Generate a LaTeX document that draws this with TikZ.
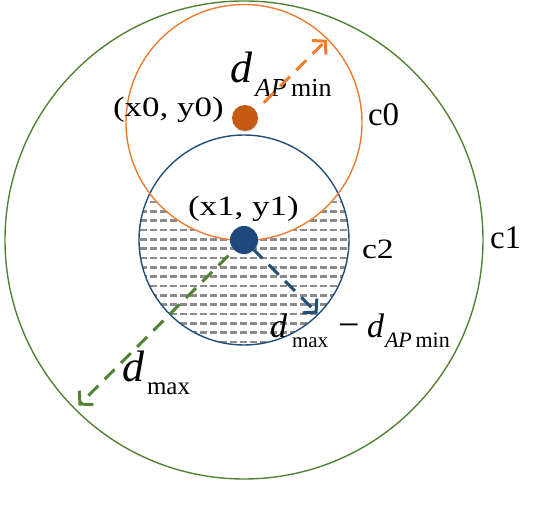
\documentclass[tikz,border=0pt]{standalone}
\usepackage{fontspec}
\setmainfont{Liberation Serif}
\usetikzlibrary{arrows.meta,shadows}
\definecolor{cgreen}{RGB}{84,130,53}
\definecolor{corange}{RGB}{237,125,49}
\definecolor{cblue}{RGB}{31,78,121}
\definecolor{cdotorange}{RGB}{197,90,17}
\definecolor{cdotblue}{RGB}{31,73,125}
\definecolor{chatch}{RGB}{140,140,140}
\newcommand\fs[1]{\fontsize{#1}{#1}\selectfont}
\begin{document}
\begin{tikzpicture}[x=1pt,y=1pt,
  lbl/.style={inner sep=0pt, outer sep=0pt, anchor=base west, text=black},
  ring/.style={line width=1.4pt},
  darrow/.style={line width=3pt, dash pattern=on 14pt off 9pt, -{Straight Barb[length=9pt,width=20pt]}},
  hatchline/.style={chatch, line width=2.8pt, dash pattern=on 7pt off 3pt},
  dotnode/.style={circle, inner sep=0pt, outer sep=0pt, drop shadow={opacity=0.18, shadow xshift=1pt, shadow yshift=-1.5pt}}]
\useasboundingbox (0,0) rectangle (550,506);
\coordinate (O0) at (244,383.5);
\coordinate (O1) at (244,266);
% hatching: inside c2, outside c0
\begin{scope}
 \clip (O1) circle (105pt);
 \begin{scope}[even odd rule]
 \clip (0,0) rectangle (550,506) (O0) circle (118pt);
 \foreach \k in {0,...,15} \draw[hatchline] (130,{304-\k*9.33}) -- (360,{304-\k*9.33});
 \end{scope}
\end{scope}
% circles
\draw[ring, cgreen] (O1) circle (239pt);
\draw[ring, cblue] (O1) circle (105pt);
\draw[ring, corange] (O0) circle (118pt);
% labels
\node[lbl] (p0) at (113,389) {\fs{28}\scalebox{1.25}[1]{(x0, y0)}};
\node[lbl] (p1) at (188,290.5) {\fs{28}\scalebox{1.25}[1]{(x1, y1)}};
\node[lbl] (lc0) at (368,380) {\fs{33}c0};
\node[lbl] (lc2) at (362,247) {\fs{28}\scalebox{1.2}[1]{c2}};
\node[lbl] (lc1) at (490,257) {\fs{33}c1};
\node[lbl] (dA) at (230,423) {\fs{44}\itshape d};
\node[lbl] (dAs) at (255,409) {\fs{26}\itshape AP\,\upshape min};
\node[lbl] (dM) at (122,124) {\fs{44}\itshape d};
\node[lbl] (dMs) at (147,111) {\fs{25}max};
\node[lbl] (dD1) at (270,168) {\fs{34}\itshape d};
\node[lbl] (dD1s) at (292,158) {\fs{21}max};
\node[lbl, anchor=base] (minus) at (349,168) {\fs{38}−};
\node[lbl] (dD2) at (367,168) {\fs{34}\itshape d};
\node[lbl] (dD2s) at (385,158) {\fs{22}\itshape AP\,\upshape min};
% arrows
\draw[darrow, corange] ([shift={(45:28pt)}]O0) -- ([shift={(45:117pt)}]O0);
\draw[darrow, cblue] ([shift={(-45:12pt)}]O1) -- ([shift={(-45:104pt)}]O1);
\draw[darrow, cgreen] ([shift={(225:22pt)}]O1) -- ([shift={(225:234pt)}]O1);
% dots
\node[dotnode, fill=cdotorange, minimum size=26pt] (dot0) at (245,388) {};
\node[dotnode, fill=cdotblue, minimum size=28pt] (dot1) at (O1) {};
\end{tikzpicture}
\end{document}
